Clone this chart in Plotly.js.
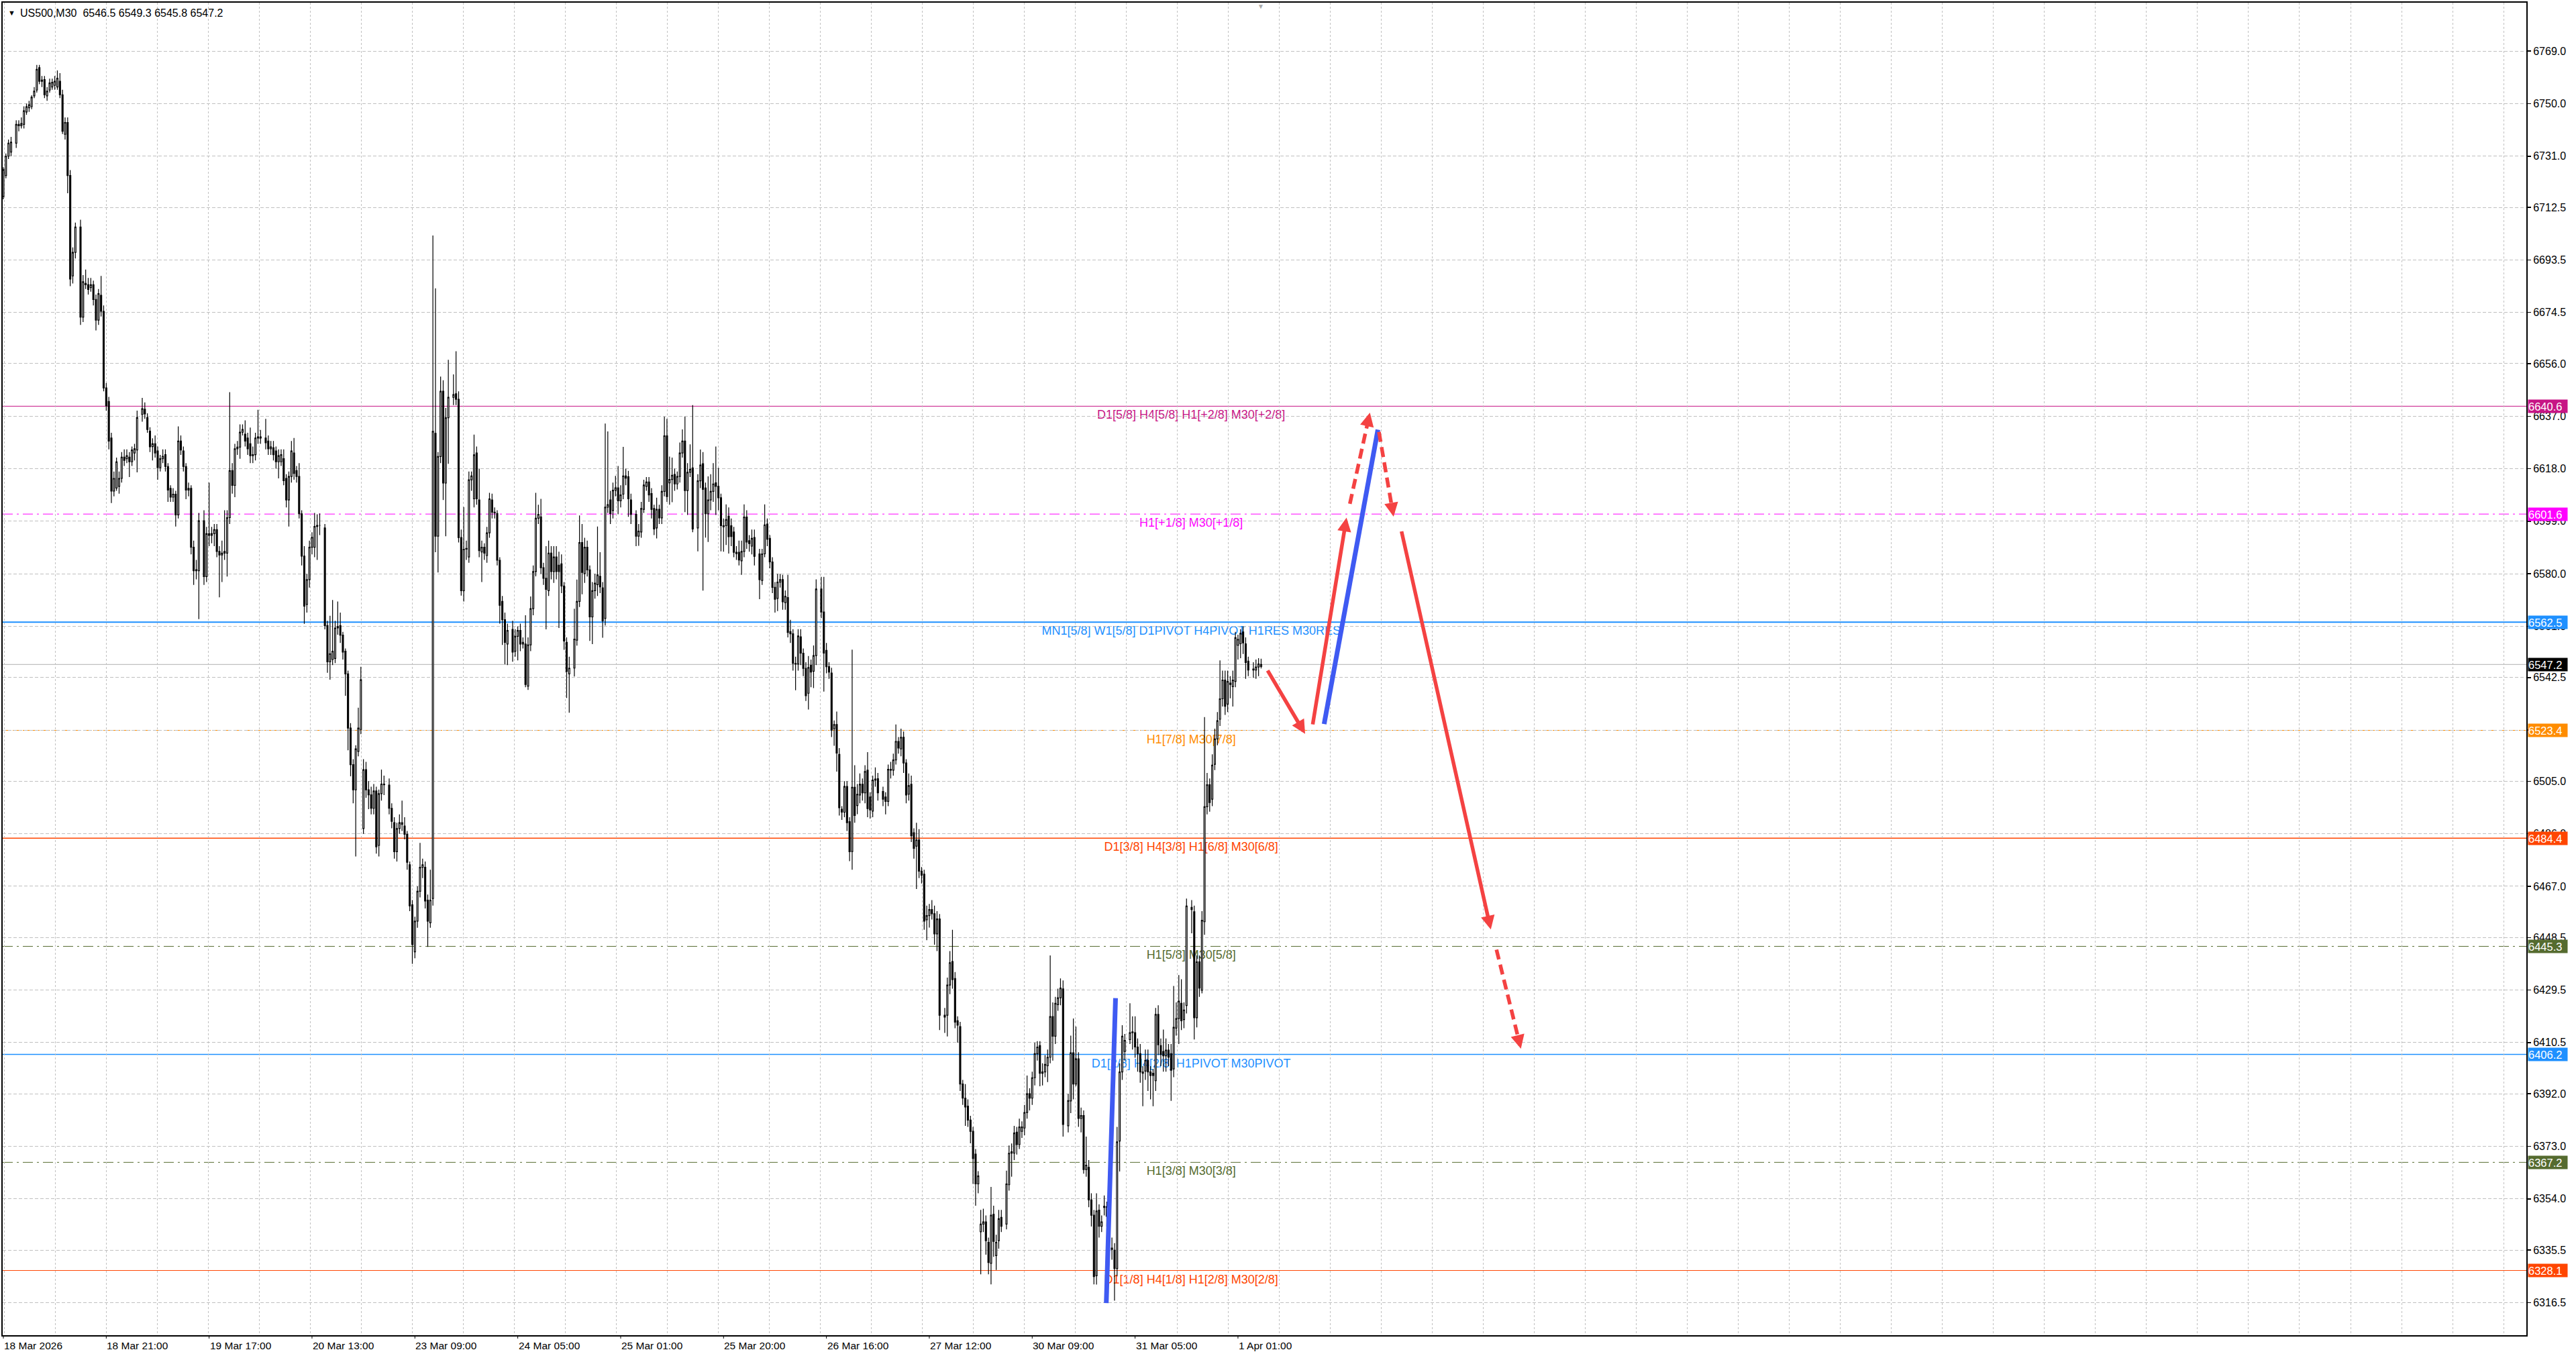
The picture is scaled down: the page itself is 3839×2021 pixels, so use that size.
<!DOCTYPE html>
<html>
<head>
<meta charset="utf-8">
<script src="https://cdn.plot.ly/plotly-3.0.1.min.js"></script>
<style>
  html, body { margin: 0; padding: 0; background: #fff; }
  #chart { width: 3839px; height: 2021px; }
</style>
</head>
<body>
<div id="chart"></div>
<script>
// US500 M30 bars (bar index counted from 18 Mar 2026 01:00)
const bars1 = [0,1,2,3,5,6,7,8,9,10, 11,12,13,14,15,16,17,18,19,20, 21,22,23,24,25,26,27,28,30,31, 32,33,34,35,36,37,38,39,40,41,
  42,43,44,45,46,47,48,49,50,51, 52,54,55,56,57,58,59,60,61,62, 63,64,65,66,67,68,69,70,71,72, 73,74,75,76,78,79,80,81,82,83,
  84,85,86,87,88,89,90,91,92,93, 94,95,96,97,98,99,100,102,103,104, 105,106,107,108,109,110,111,112,113,114, 115,116,117,118,119,120,121,122,123];
const open1 = [6716.5,6724.0,6731.0,6732.5,6735.7,6742.5,6742.0,6742.5,6747.0,6748.5,
  6748.9,6752.8,6754.9,6763.0,6758.1,6758.7,6752.8,6754.9,6756.0,6756.6,
  6756.0,6758.1,6753.2,6738.9,6743.2,6724.0,6687.7,6696.2,6705.4,6672.8,
  6685.0,6684.5,6683.5,6684.5,6679.2,6671.7,6680.7,6674.9,6647.2,6642.3,
  6629.1,6609.9,6611.0,6611.6,6614.5,6622.2,6621.6,6622.2,6620.5,6623.7,
  6624.8,6637.6,6639.5,6636.5,6631.6,6626.0,6627.0,6624.4,6618.4,6621.6,
  6623.1,6618.8,6610.9,6607.7,6608.8,6601.3,6628.0,6624.4,6618.8,6610.3,
  6610.9,6589.6,6581.1,6581.1,6599.2,6579.0,6594.5,6593.9,6594.5,6596.0,
  6588.1,6586.8,6587.5,6587.5,6600.3,6617.3,6612.0,6625.2,6625.8,6631.2,
  6630.5,6629.1,6627.0,6622.7,6623.1,6629.1,6629.5,6629.1,6628.0,6625.2,
  6625.6,6624.4,6620.5,6620.5,6621.6,6614.5,6606.7,6615.2,6623.7,6617.3,
  6615.2,6601.7,6586.4,6568.9,6577.9,6589.6,6589.6,6597.1,6597.5];
const high1 = [6727,6732,6737,6738,6744,6744,6745,6749,6750,6751,
  6753,6756,6764,6764,6760,6760,6756,6759,6759,6760,
  6762,6761,6755,6745,6745,6726,6698,6707,6708,6688,
  6690,6687,6687,6686,6681,6683,6687.7,6677,6649,6644,
  6631,6617,6622,6617,6624,6625,6625,6624,6626,6627,
  6639,6643.6,6642,6638,6633,6629,6630,6626,6623,6625,
  6625,6620,6612,6611,6610,6633.3,6630,6626,6620,6613,
  6612,6592,6585,6602,6603,6597,6613,6597,6598,6598,
  6590,6592,6603,6603,6645.7,6620,6627,6628,6634,6634,
  6635.5,6631,6632.9,6626,6631,6639.3,6632,6636,6630,6628,
  6628,6626,6625,6625,6625,6616,6617,6628,6629.1,6619,
  6620,6603,6590,6580,6592,6595,6602,6601.5,6601.8];
const low1 = [6715.4,6723,6730,6731,6734,6740,6741,6741,6746,6747,
  6748,6752,6754,6757,6756,6752,6751,6754,6755,6755,
  6755,6752,6739,6737,6717.6,6684,6685,6694,6670,6671,
  6683,6681,6682,6677,6668,6670,6673,6646,6639,6625,
  6605.6,6608,6610,6609,6613,6619,6620,6615,6619,6621,
  6616.7,6635,6636,6631,6624,6621,6622,6614,6617,6620,
  6617,6606,6606,6606,6597.1,6600,6623,6617,6607,6608,
  6587,6576,6578,6563.6,6576,6577,6590,6591,6590,6586,
  6571.5,6577,6585,6579,6598,6609,6607.7,6623,6621.6,6630,
  6626,6623,6620,6620,6621,6627,6627,6625,6623,6623,
  6621,6618,6614.5,6619,6612,6604,6597.1,6613,6614,6613,
  6600,6583,6561.9,6566,6575,6587,6586,6585,6594];
const close1 = [6726.1,6731.0,6735.7,6736.1,6742.5,6742.0,6742.8,6747.4,6748.9,6749.6,
  6752.3,6754.5,6762.4,6758.1,6758.5,6753.2,6754.5,6757.5,6757.7,6758.1,
  6759.2,6753.2,6740.0,6743.2,6724.0,6686.6,6696.2,6705.4,6672.8,6685.6,
  6684.5,6682.8,6684.5,6679.2,6671.7,6681.3,6674.9,6647.2,6640.8,6628.0,
  6609.9,6614.5,6620.5,6614.5,6622.2,6621.0,6622.7,6620.5,6624.8,6625.2,
  6636.5,6639.7,6637.8,6632.2,6625.9,6627.0,6623.7,6618.4,6621.6,6622.5,
  6618.8,6610.3,6607.7,6608.8,6601.3,6628.0,6624.8,6618.8,6610.3,6610.9,
  6589.6,6581.1,6581.5,6599.2,6579.0,6594.5,6593.9,6594.5,6596.0,6588.1,
  6586.8,6587.5,6588.1,6600.3,6617.3,6612.0,6625.2,6625.8,6631.2,6632.2,
  6628.0,6625.2,6622.7,6623.1,6629.1,6629.5,6629.1,6627.4,6625.2,6625.9,
  6623.1,6620.5,6622.7,6623.1,6613.7,6606.7,6615.2,6624.4,6616.3,6615.2,
  6601.7,6586.4,6568.3,6577.9,6589.6,6593.2,6597.1,6597.5,6597.5];

const bars2 = [125,126,127,128,129,130,131,132,133,134, 135,136,137,138,139,140,141,142,143,144, 145,146,147,148,150,151,152,153,154,155,
  156,157,158,159,160,161,162,163,164,165, 166,167,168,169,170,171,172,173,175,176, 177,178,179,180,181,182,183,184,185,186,
  187,188,189,190,191,192,193,194,195,196, 198,199,200,201,202,203,204,205,206,207, 208,209,210,211,212,213,214,215,216,217,
  218,219,220,222,223,224,225,226,227,228, 229,230,231,232,233,234,235,236,237,238, 239,240,241,242,243,244,246,247];
const open2 = [6596.6,6561.3,6548.2,6549.0,6549.4,6560.4,6561.3,6557.8,6552.0,6543.8,
  6524.2,6511.0,6501.9,6515.8,6523.7,6487.9,6509.2,6501.9,6500.1,6495.2,
  6501.5,6481.8,6500.5,6504.0,6503.6,6495.2,6490.0,6479.5,6487.9,6490.0,
  6488.8,6485.8,6474.8,6460.3,6443.3,6454.4,6465.2,6473.9,6473.9,6462.0,
  6453.8,6462.6,6630.8,6593.6,6622.4,6646.0,6612.8,6636.4,6643.8,6645.1,
  6643.1,6593.1,6573.9,6588.9,6586.1,6614.0,6607.1,6623.7,6606.7,6587.9,
  6589.6,6586.6,6594.8,6606.7,6602.3,6601.8,6584.9,6570.0,6563.4,6554.6,
  6559.9,6552.0,6557.4,6559.5,6554.6,6554.6,6539.4,6554.3,6567.4,6580.8,
  6600.1,6600.6,6582.2,6578.4,6573.9,6587.5,6580.8,6586.1,6583.1,6583.6,
  6575.6,6555.2,6543.8,6545.9,6556.0,6570.0,6591.3,6580.1,6589.6,6581.4,
  6564.4,6573.9,6576.1,6579.1,6574.9,6563.9,6604.1,6606.7,6602.9,6610.2,
  6611.1,6606.4,6608.8,6615.4,6615.1,6606.7,6601.5,6593.6];
const high2 = [6598,6563,6564.8,6570.5,6563,6570.0,6566,6559,6553,6545,
  6526,6513,6518,6531.6,6546.4,6513,6512,6505,6503,6504,
  6503,6502,6509.2,6507,6506,6497,6492,6490,6493,6498.0,
  6492,6487,6476,6462,6456,6467,6482.7,6477,6476,6464,
  6473.0,6702.3,6683.2,6624,6651.3,6650,6640,6657.4,6652.1,6660.5,
  6646,6596,6604.1,6592,6617,6617,6630.3,6626,6618,6592,
  6591,6597,6609.3,6609,6604,6603,6586,6572,6566,6562,
  6563.0,6560,6561,6562,6557,6565,6557,6571.8,6583,6609.3,
  6605,6607.1,6584,6590,6592,6590,6590,6590,6588,6587,
  6577,6557,6550,6567.4,6577.9,6601.1,6598,6593,6592,6583,
  6577,6580,6597.1,6587.8,6577,6634.3,6631.5,6610,6613,6615.4,
  6619,6612,6625.9,6618,6617.2,6609,6603,6598.0];
const low2 = [6559.9,6544.2,6541.7,6547,6547.7,6558,6555,6549,6535.9,6516.2,
  6506.8,6497.0,6477.8,6514,6522,6486,6499,6494.9,6493,6493,
  6478.8,6477.8,6498,6500,6493,6488,6477,6476,6486,6487,
  6484,6473,6458,6439.0,6441,6452,6463,6470,6459,6445.1,
  6452,6460,6587.8,6580.5,6620,6606.7,6593.6,6619.8,6641,6641,
  6591.3,6572.1,6570,6585,6584,6610,6604,6605,6586,6577.0,
  6585,6584,6593,6600,6600,6583,6562,6554.3,6547.3,6547,
  6548.2,6550,6548.7,6552,6553,6539,6538,6552,6565,6579.1,
  6598,6580,6576,6559.9,6572,6578,6576.7,6578,6560.4,6573,
  6552.5,6535.1,6529.8,6542.9,6554,6568,6572.6,6576.7,6579,6555.7,
  6554.6,6571,6572,6573,6556.9,6561.3,6602,6598.0,6600,6608,
  6601.5,6604,6607,6612,6600.6,6598,6590,6590.1];
const close2 = [6561.3,6548.2,6551.1,6552.0,6560.4,6560.9,6557.8,6551.7,6543.8,6524.2,
  6511.0,6501.9,6516.7,6524.2,6541.7,6509.2,6501.9,6500.1,6495.2,6501.5,
  6481.3,6500.5,6504.0,6503.7,6495.2,6490.5,6479.5,6487.9,6490.0,6489.4,
  6485.8,6475.7,6459.9,6446.0,6454.4,6465.2,6473.9,6474.8,6461.7,6454.4,
  6462.0,6631.5,6593.6,6622.4,6646.0,6612.8,6636.4,6643.8,6644.8,6643.1,
  6593.1,6573.9,6588.9,6589.2,6614.0,6615.4,6623.0,6607.1,6588.4,6589.6,
  6587.5,6594.8,6607.1,6602.3,6602.0,6584.9,6568.6,6563.4,6555.2,6559.5,
  6551.7,6557.4,6559.5,6554.6,6555.2,6540.0,6554.3,6567.4,6580.8,6600.1,
  6601.5,6582.2,6578.4,6574.4,6587.5,6580.8,6586.1,6580.8,6580.8,6575.6,
  6555.7,6544.7,6545.9,6556.4,6570.0,6591.3,6580.5,6589.6,6581.4,6564.4,
  6573.9,6576.6,6579.6,6575.3,6563.0,6604.1,6605.0,6601.8,6610.2,6611.1,
  6606.4,6608.5,6615.4,6614.6,6607.1,6601.5,6593.6,6595.4];

const bars3 = [248,249,250,251,252,253,254,255,256,257, 258,259,260,261,262,263,264,265,266,267, 268,270,271,272,273,274,275,276,277,278,
  279,280,281,282,283,284,285,286,287,288, 289,290,291,292,294,295,296,297,298,299, 300,301,302,303,304,305,306,307,308,309,
  310,311,312,313,314,315,316,318,319,320, 321,322,323,324,325,326,327,328,329,330, 331,332,333,334,335,336,337,338,339,340,
  342,343,344,345,346,347,348,349,350,351, 352,353,354,355,356,357,358,359,360,361, 362,363,364,366,367,368,369];
const open3 = [6595.1,6603.3,6611.6,6613.2,6609.0,6603.6,6596.6,6603.3,6600.2,6609.8,
  6629.9,6612.9,6614.1,6615.9,6612.5,6615.2,6623.7,6628.0,6610.1,6616.7,
  6618.3,6596.6,6613.6,6619.8,6611.0,6601.7,6606.7,6609.8,6612.9,6611.6,
  6607.5,6597.4,6597.4,6600.8,6597.4,6595.1,6587.8,6587.8,6584.7,6588.1,
  6600.5,6592.0,6590.0,6593.1,6587.2,6577.6,6587.2,6598.0,6592.8,6584.3,
  6575.1,6571.1,6577.0,6577.9,6569.6,6571.4,6559.1,6558.3,6547.6,6547.4,
  6557.2,6551.3,6545.8,6536.8,6546.9,6544.8,6550.4,6574.5,6566.2,6552.3,
  6546.4,6544.1,6524.0,6525.5,6514.7,6494.9,6493.8,6503.1,6490.4,6479.6,
  6502.8,6496.2,6500.0,6503.9,6500.8,6509.0,6499.3,6494.2,6505.4,6505.9,
  6501.3,6499.3,6497.7,6509.3,6509.0,6512.7,6519.4,6516.7,6520.9,6511.6,
  6500.3,6503.9,6486.4,6481.5,6483.8,6472.5,6471.4,6454.9,6456.4,6458.6,
  6457.1,6449.8,6455.2,6420.4,6420.4,6431.3,6439.8];
const high3 = [6606,6614,6615,6615,6611,6605,6607.5,6605,6612,6636.8,
  6636,6622.4,6622,6618,6617,6627.5,6632.2,6636.8,6620,6626.8,
  6641.0,6616,6624.9,6624,6613,6615.2,6616,6620,6626.0,6618.3,
  6609,6600,6605.1,6604,6600,6597,6590,6592,6592,6605.1,
  6603,6594,6596,6596,6589,6589,6605.1,6600,6594,6586,
  6577,6580,6580,6579.6,6574,6579.6,6563.4,6560,6550,6560,
  6560,6553,6548,6550.3,6549,6554.1,6578,6578.9,6578.9,6555,
  6548,6546,6527,6530.2,6517,6496,6505,6505,6492,6552.6,
  6510.8,6504,6507.8,6506,6510.8,6515.5,6501,6507,6510,6508,
  6503,6501,6511,6512,6515,6525.5,6521,6524.0,6523,6513,
  6507.8,6507,6488,6490,6487.7,6474,6473,6460,6460.6,6462,
  6460,6458,6457,6423,6434,6443.6,6451.3];
const low3 = [6593,6602,6610,6606,6600,6594,6592.8,6598,6598,6608,
  6606,6605,6605.9,6610,6610.5,6613,6622,6602.3,6601.3,6615,
  6595,6588.1,6611,6573.9,6593.1,6591.5,6603,6606,6601.3,6603,
  6588.1,6588,6590.4,6587.3,6590,6586,6585,6583,6579.6,6586,
  6589,6588,6587,6583,6570.8,6576,6586,6590,6582,6573,
  6566,6566.5,6575,6567,6567,6557,6555,6545,6537.9,6545,
  6547,6543,6534,6530.9,6539,6538.7,6547,6564,6537.4,6544,
  6542,6521,6517.8,6508.5,6492.6,6491,6492,6487,6476.1,6473.0,
  6490,6493.1,6497,6498,6497,6492,6491.5,6492,6503,6498,
  6496,6493,6496,6506,6507,6511,6515,6514,6508,6497,
  6498,6483,6477,6466.0,6470,6468,6451.3,6447.5,6452.1,6455,
  6445.9,6443.6,6415.0,6414,6412.7,6428,6430];
const close3 = [6603.6,6612.1,6613.2,6608.5,6603.3,6596.2,6603.3,6600.2,6609.8,6629.9,
  6607.9,6614.1,6615.6,6612.5,6615.2,6623.7,6628.0,6610.1,6616.7,6617.8,
  6596.2,6613.6,6619.3,6610.5,6601.7,6606.7,6609.8,6612.5,6611.6,6607.5,
  6597.4,6597.0,6599.6,6593.4,6593.5,6587.8,6587.3,6585.0,6588.1,6600.5,
  6591.5,6590.9,6592.8,6586.3,6577.9,6587.2,6597.7,6592.5,6584.3,6575.1,
  6570.8,6577.0,6577.9,6569.9,6571.9,6558.8,6558.3,6547.6,6547.4,6557.5,
  6551.3,6545.8,6535.9,6546.1,6544.5,6550.4,6574.5,6566.2,6551.3,6546.4,
  6544.5,6523.5,6525.5,6515.2,6495.4,6493.8,6503.1,6490.0,6479.5,6502.8,
  6492.6,6500.3,6503.9,6500.8,6508.5,6495.1,6494.6,6505.4,6505.8,6500.8,
  6498.5,6497.7,6509.3,6509.0,6512.7,6519.4,6517.0,6520.9,6511.6,6500.0,
  6503.4,6485.3,6480.7,6483.8,6472.5,6471.0,6454.4,6456.4,6458.6,6457.1,
  6449.8,6455.2,6420.4,6419.7,6431.3,6439.4,6433.3];

const bars4 = [370,371,372,373,374,375,376,377,378,379, 380,381,382,383,384,385,386,387,388,390, 391,392,393,394,395,396,397,398,399,400,
  401,402,403,404,405,406,407,408,409,410, 411,412,414,415,416,417,418,419,420,421, 422,423,424,425,426,427,428,429,430,431,
  432,433,434,435,436,438,439,440,441,442, 443,444,445,446,447,448,449,450,451,452, 453,454,455,456,457,458,459,460,462,463,
  464,465,466,467,468,469,470,471,472,473, 474,475,476,477,478,479,480,481,482,483, 484,486,487,488,489];
const open4 = [6433.7,6418.4,6416.3,6395.5,6390.4,6387.5,6382.5,6378.4,6370.2,6359.4,
  6342.1,6344.9,6345.7,6338.3,6330.7,6348.4,6333.5,6338.9,6347.3,6344.9,
  6359.1,6370.5,6370.5,6378.1,6373.6,6378.4,6379.6,6385.2,6392.0,6390.4,
  6397.8,6406.5,6409.4,6399.4,6399.9,6402.1,6405.2,6419.9,6412.8,6424.2,
  6426.7,6429.9,6380.4,6389.4,6406.8,6395.5,6404.6,6383.1,6384.1,6364.6,
  6365.4,6353.6,6348.1,6326.2,6349.9,6344.1,6350.9,6347.7,6350.0,6336.2,
  6335.4,6328.8,6374.9,6399.9,6407.3,6411.6,6414.1,6414.1,6408.9,6406.5,
  6399.9,6400.2,6404.1,6399.9,6399.4,6396.7,6420.7,6409.4,6407.3,6405.7,
  6407.8,6406.5,6401.0,6415.7,6419.2,6424.7,6418.8,6423.9,6459.4,6457.8,
  6419.5,6439.7,6429.4,6454.2,6495.8,6503.7,6498.5,6511.1,6520.3,6527.4,
  6534.8,6541.6,6532.9,6540.0,6539.2,6541.1,6554.2,6554.7,6559.0,6554.7,
  6548.4,6545.2,6545.2,6546.3,6546.5];
const high4 = [6436,6420,6418,6397,6395.5,6390,6384,6380,6372,6364,
  6350,6350.4,6348,6340,6358.3,6351.5,6341,6350,6350,6364.2,
  6373.3,6374,6380.4,6380,6383,6382,6388,6398.6,6394,6400,
  6410.5,6411,6411,6403,6406,6408,6442.0,6425,6427,6430,
  6433.7,6433,6392,6413,6419.2,6416.3,6407,6387,6386,6376.5,
  6368,6356,6350,6356.0,6352,6348,6355.2,6353,6352,6340,
  6338,6380,6403,6416.8,6413.6,6424.7,6420,6420,6412,6410,
  6402,6408,6408,6402,6401,6423,6424,6412,6415.2,6412,
  6410,6410,6431,6425,6434.9,6433.4,6425,6462.6,6462,6460,
  6442,6442,6458,6528.2,6508,6506,6514.7,6524,6530,6548.7,
  6545,6545,6545,6543,6545,6559.0,6558,6560,6561,6557,
  6550,6548,6549,6549.5,6549.3];
const low4 = [6415.7,6410.5,6393,6388,6380.4,6380,6374.1,6359.4,6351.5,6356.0,
  6326.7,6342,6333.8,6326.7,6323.1,6333,6328.3,6336,6342,6343,
  6357,6362,6368,6370,6372,6376,6377,6383,6386.0,6388,
  6395,6404,6394.7,6395,6398,6396.2,6403,6404,6410,6422,
  6424,6376.5,6378,6385,6390,6394.7,6380,6378,6363.1,6362,
  6351,6344,6323.1,6323,6340,6342,6348,6344,6336,6332,
  6317.2,6326,6363.9,6397,6404,6410,6408,6405,6400,6396,
  6387.5,6397,6393,6390,6387.5,6393,6406,6402,6400,6400,
  6402,6389.4,6398,6413,6410,6415,6415.7,6421,6450,6411.6,
  6416,6427,6428.3,6449.5,6493,6494,6496,6509,6518,6525,
  6532,6529,6530,6535,6532,6539,6549,6549.5,6551,6542,
  6543,6542.4,6542,6543,6545.8];
const close4 = [6417.9,6416.8,6395.5,6390.4,6387.2,6382.5,6378.4,6368.6,6359.4,6362.3,
  6344.9,6345.7,6338.9,6331.0,6348.1,6338.6,6338.3,6346.8,6344.1,6359.4,
  6370.5,6371.0,6377.8,6373.6,6380.0,6380.0,6385.2,6392.0,6390.4,6397.8,
  6406.5,6408.9,6399.4,6399.9,6402.6,6405.2,6419.9,6412.8,6424.7,6426.7,
  6430.2,6380.9,6389.5,6406.8,6395.5,6404.6,6383.1,6384.1,6364.6,6366.2,
  6353.6,6348.1,6325.9,6349.6,6344.1,6345.7,6351.3,6351.2,6340.0,6335.7,
  6328.8,6374.6,6399.9,6412.8,6411.3,6414.1,6414.4,6408.9,6406.5,6399.9,
  6399.4,6404.1,6399.9,6398.6,6398.6,6420.7,6409.7,6406.2,6405.7,6407.8,
  6405.2,6400.5,6416.0,6419.2,6425.5,6418.4,6422.3,6459.9,6458.6,6419.5,
  6439.7,6430.2,6454.7,6495.8,6503.7,6497.3,6510.8,6520.3,6526.9,6534.8,
  6541.6,6532.1,6541.1,6540.5,6541.6,6556.9,6556.3,6558.5,6555.0,6547.9,
  6545.2,6545.6,6546.3,6547.4,6547.2];

// price levels drawn on the chart
const levelPrices = [6640.6, 6601.6, 6562.5, 6523.4, 6484.4, 6445.3, 6406.2, 6367.2, 6328.1];
const levelNames = [
  'D1[5/8] H4[5/8] H1[+2/8] M30[+2/8]',
  'H1[+1/8] M30[+1/8]',
  'MN1[5/8] W1[5/8] D1PIVOT H4PIVOT H1RES M30RES',
  'H1[7/8] M30[7/8]',
  'D1[3/8] H4[3/8] H1[6/8] M30[6/8]',
  'H1[5/8] M30[5/8]',
  'D1[2/8] H4[2/8] H1PIVOT M30PIVOT',
  'H1[3/8] M30[3/8]',
  'D1[1/8] H4[1/8] H1[2/8] M30[2/8]'
];
const lastPrice = 6547.2;

// axis labels
const priceTicks = [6769.0, 6750.0, 6731.0, 6712.5, 6693.5, 6674.5, 6656.0, 6637.0, 6618.0, 6599.0, 6580.0, 6561.0,
  6542.5, 6523.5, 6505.0, 6486.0, 6467.0, 6448.5, 6429.5, 6410.5, 6392.0, 6373.0, 6354.0, 6335.5, 6316.5];
const timeBars = [0, 40, 80, 120, 160, 200, 240, 280, 320, 360, 400, 440, 480];
const timeLabels = ['18 Mar 2026', '18 Mar 21:00', '19 Mar 17:00', '20 Mar 13:00', '23 Mar 09:00', '24 Mar 05:00',
  '25 Mar 01:00', '25 Mar 20:00', '26 Mar 16:00', '27 Mar 12:00', '30 Mar 09:00', '31 Mar 05:00', '1 Apr 01:00'];

// hand-drawn projection lines (bar, price)
const solidFromBar = [491.3, 509.0, 543.5];
const solidFromPrice = [6545.4, 6525.2, 6595.7];
const solidToBar = [506.1, 522.2, 578.3];
const solidToPrice = [6522.1, 6600.3, 6451.4];
const dashedFromBar = [523.5, 534.8, 580.5];
const dashedFromPrice = [6605.3, 6631.3, 6444.1];
const dashedToBar = [531.3, 540.5, 590.0];
const dashedToPrice = [6638.3, 6600.7, 6408.3];
const blueFromBar = [428.8, 513.5];
const blueFromPrice = [6316.3, 6525.7];
const blueToBar = [432.4, 534.4];
const blueToPrice = [6426.6, 6632.1];

// ---- styles ----
const FONT = 'Liberation Sans, Arial, sans-serif';
const levelColors = ['#C71585', '#FF00FF', '#1E90FF', '#FF8C00', '#FF4500', '#556B2F', '#1E90FF', '#556B2F', '#FF4500'];
const levelDash = ['solid', '15px,6px,3px,6px', 'solid', '10px,5px', 'solid', '15px,6px,3px,6px', 'solid', '15px,6px,3px,6px', 'solid'];
const levelWidth = [1, 1, 2, 1, 1.5, 1, 1.5, 1, 1];
const RED = '#F44242';
const BLUE = '#3F5AF2';
const labelBar = 461.8;

const W = 3839, H = 2021;
const margin = { l: 4, r: 74, t: 4, b: 31 };
const xRange = [-0.26, 980.9];
const yRange = [6304.7, 6786.5];
const pxPerBar = (W - margin.l - margin.r) / (xRange[1] - xRange[0]);
const pxPerPt = (H - margin.t - margin.b) / (yRange[1] - yRange[0]);

const bars = [...bars1, ...bars2, ...bars3, ...bars4];
const opens = [...open1, ...open2, ...open3, ...open4];
const highs = [...high1, ...high2, ...high3, ...high4];
const lows = [...low1, ...low2, ...low3, ...low4];
const closes = [...close1, ...close2, ...close3, ...close4];
[[bars1, open1, high1, low1, close1], [bars2, open2, high2, low2, close2],
 [bars3, open3, high3, low3, close3], [bars4, open4, high4, low4, close4]].forEach((s, i) => {
  const n = s.map(a => a.length);
  if (n.some(v => v !== n[0])) throw new Error('segment ' + (i + 1) + ' length mismatch: ' + n.join(','));
});

// point that lies `px` screen pixels before the end of a segment
function pullBack(fx, fy, tx, ty, px) {
  const dx = (tx - fx) * pxPerBar, dy = (ty - fy) * pxPerPt;
  const f = 1 - px / Math.hypot(dx, dy);
  return [fx + (tx - fx) * f, fy + (ty - fy) * f];
}

const traces = [{
  type: 'candlestick',
  x: bars, open: opens, high: highs, low: lows, close: closes,
  increasing: { line: { color: '#000', width: 1.2 }, fillcolor: '#fff' },
  decreasing: { line: { color: '#000', width: 1.2 }, fillcolor: '#000' },
  whiskerwidth: 0,
  hoverinfo: 'skip',
  showlegend: false
}];

blueFromBar.forEach((b, i) => {
  traces.push({
    type: 'scatter', mode: 'lines',
    x: [b, blueToBar[i]], y: [blueFromPrice[i], blueToPrice[i]],
    line: { color: BLUE, width: 7 },
    hoverinfo: 'skip', showlegend: false
  });
});

const annotations = [];
dashedFromBar.forEach((b, i) => {
  const end = pullBack(b, dashedFromPrice[i], dashedToBar[i], dashedToPrice[i], 14);
  traces.push({
    type: 'scatter', mode: 'lines',
    x: [b, end[0]], y: [dashedFromPrice[i], end[1]],
    line: { color: RED, width: 5.5, dash: '15px,8px' },
    hoverinfo: 'skip', showlegend: false
  });
  const tail = pullBack(b, dashedFromPrice[i], dashedToBar[i], dashedToPrice[i], 20);
  annotations.push({
    x: dashedToBar[i], y: dashedToPrice[i], ax: tail[0], ay: tail[1],
    xref: 'x', yref: 'y', axref: 'x', ayref: 'y', text: '',
    showarrow: true, arrowhead: 2, arrowsize: 0.75, arrowwidth: 5.5, arrowcolor: RED, standoff: 0
  });
});

solidFromBar.forEach((b, i) => {
  annotations.push({
    x: solidToBar[i], y: solidToPrice[i], ax: b, ay: solidFromPrice[i],
    xref: 'x', yref: 'y', axref: 'x', ayref: 'y', text: '',
    showarrow: true, arrowhead: 2, arrowsize: 0.75, arrowwidth: 5.5, arrowcolor: RED, standoff: 0
  });
});

// price boxes on the right scale
levelPrices.concat([lastPrice]).forEach((p, i) => {
  annotations.push({
    xref: 'paper', x: 1, xanchor: 'left', xshift: 2,
    yref: 'y', y: p, yanchor: 'middle',
    text: p.toFixed(1), showarrow: false, align: 'left',
    width: 58, height: 19, borderpad: 0,
    bgcolor: i < levelPrices.length ? levelColors[i] : '#000',
    font: { family: FONT, size: 16.5, color: '#fff' }
  });
});

// time labels, left aligned at their bar like the terminal draws them
timeBars.forEach((b, i) => {
  annotations.push({
    xref: 'x', x: b, xanchor: 'left', xshift: -1,
    yref: 'paper', y: 0, yanchor: 'top', yshift: -5,
    text: timeLabels[i], showarrow: false,
    font: { family: FONT, size: 15.5, color: '#000' }
  });
});

// header line
const n = bars.length - 1;
annotations.push({
  xref: 'paper', x: 0, xanchor: 'left', xshift: 24,
  yref: 'paper', y: 1, yanchor: 'top', yshift: -5,
  text: 'US500,M30\u00a0\u00a0' + [opens[n], highs[n], lows[n], closes[n]].map(v => v.toFixed(1)).join(' '),
  showarrow: false, font: { family: FONT, size: 16, color: '#000' }
});
annotations.push({
  xref: 'paper', x: 0, xanchor: 'left', xshift: 6,
  yref: 'paper', y: 1, yanchor: 'top', yshift: -7,
  text: '\u25BC', showarrow: false, font: { family: FONT, size: 11, color: '#000' }
});
annotations.push({
  xref: 'x', x: bars[n], xanchor: 'center',
  yref: 'paper', y: 1, yanchor: 'top', yshift: 2,
  text: '\u25BC', showarrow: false, font: { family: FONT, size: 10, color: '#A8A8A8' }
});

const shapes = [];
shapes.push({
  type: 'line', layer: 'below', xref: 'paper', x0: 0, x1: 1, yref: 'y', y0: lastPrice, y1: lastPrice,
  line: { color: '#C0C0C0', width: 1.2 }
});
levelPrices.forEach((p, i) => {
  shapes.push({
    type: 'line', layer: 'below', xref: 'paper', x0: 0, x1: 1, yref: 'y', y0: p, y1: p,
    line: { color: levelColors[i], width: levelWidth[i], dash: levelDash[i] }
  });
  shapes.push({
    type: 'line', layer: 'below', xref: 'x', x0: labelBar - 1, x1: labelBar + 1, yref: 'y', y0: p, y1: p,
    line: { color: 'rgba(0,0,0,0)', width: 1 },
    label: {
      text: levelNames[i], textposition: 'middle', yanchor: 'top', padding: 1,
      font: { family: FONT, size: 18, color: levelColors[i] }
    }
  });
});
timeBars.forEach(b => {
  shapes.push({
    type: 'line', xref: 'x', x0: b, x1: b, yref: 'paper', ysizemode: 'pixel', yanchor: 0, y0: 0, y1: -5,
    line: { color: '#000', width: 1 }
  });
});

const layout = {
  width: W, height: H, margin: margin,
  paper_bgcolor: '#fff', plot_bgcolor: '#fff',
  showlegend: false,
  font: { family: FONT, size: 16, color: '#000' },
  xaxis: {
    range: xRange, rangeslider: { visible: false },
    tickmode: 'linear', tick0: 20.2, dtick: 19.83,
    showticklabels: false, ticks: '',
    showgrid: true, gridcolor: '#C0C0C0', gridwidth: 1, griddash: '3px,3px',
    zeroline: false, showline: true, mirror: true, linecolor: '#000', linewidth: 2,
    fixedrange: true
  },
  yaxis: {
    range: yRange, side: 'right',
    tickmode: 'array', tickvals: priceTicks, ticktext: priceTicks.map(v => v.toFixed(1)),
    ticks: 'outside', ticklen: 5, tickwidth: 1.5, tickcolor: '#000',
    tickfont: { family: FONT, size: 16, color: '#000' },
    showgrid: true, gridcolor: '#C0C0C0', gridwidth: 1, griddash: '5px,3px',
    zeroline: false, showline: true, mirror: true, linecolor: '#000', linewidth: 2,
    fixedrange: true
  },
  shapes: shapes,
  annotations: annotations
};

Plotly.newPlot('chart', traces, layout, { displayModeBar: false, staticPlot: true });
</script>
</body>
</html>
